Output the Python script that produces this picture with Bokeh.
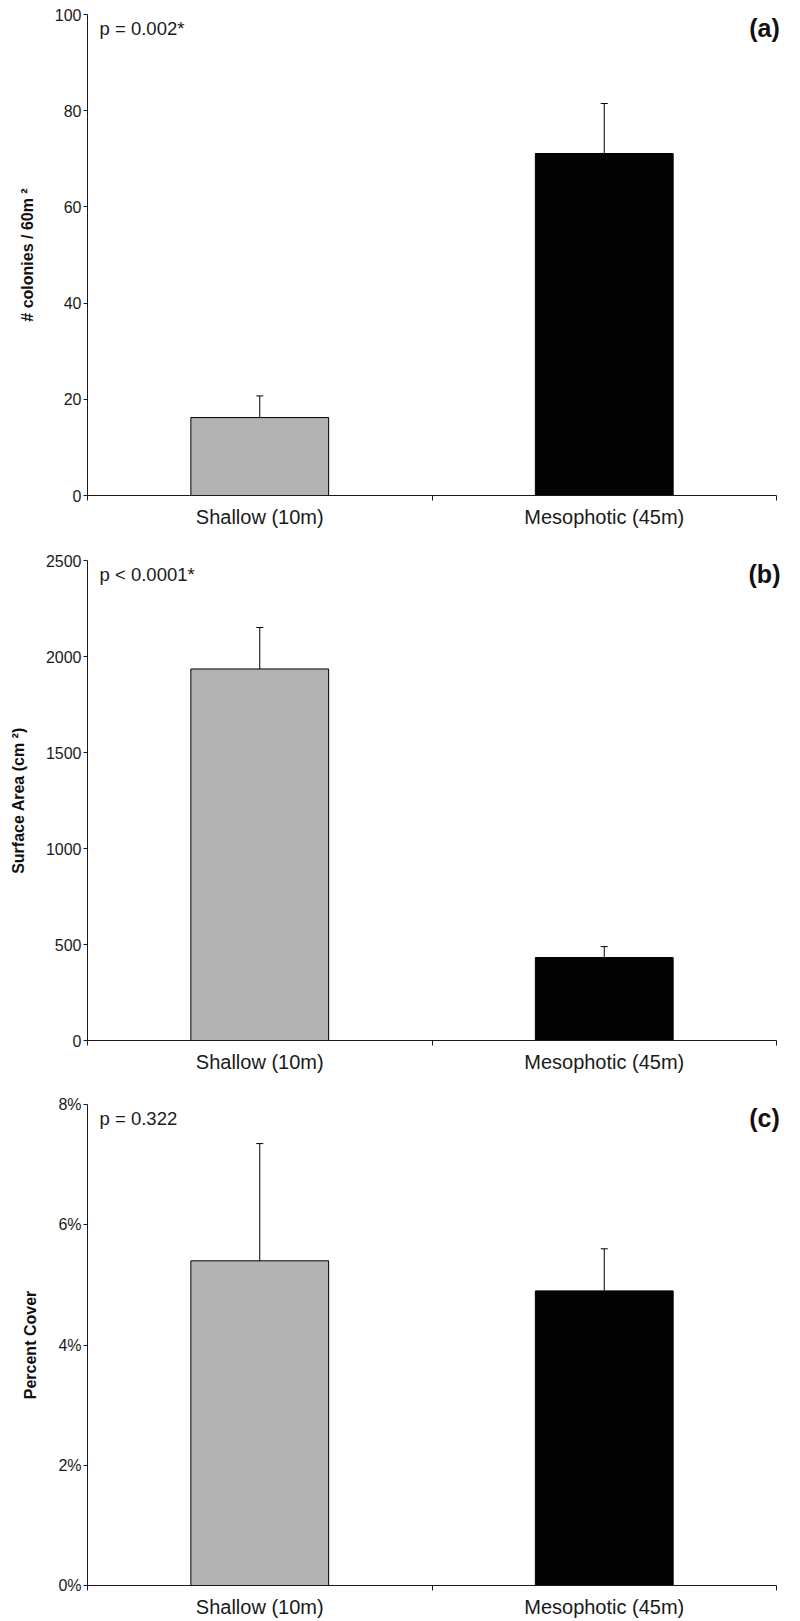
from bokeh.plotting import figure
from bokeh.models import (Range1d, FixedTicker, Whisker, ColumnDataSource, Label,
                          NumeralTickFormatter, TeeHead)
from bokeh.layouts import column
from bokeh.embed import file_html
from bokeh.resources import INLINE

# ---- data ----
categories = ["Shallow (10m)", "Mesophotic (45m)"]
bar_colors = ["#b3b3b3", "#030303"]

colonies_mean = [16.2, 71.1]
colonies_err = [4.5, 10.4]

area_mean = [1935, 432]
area_err = [216, 57]

cover_mean = [0.054, 0.049]
cover_err = [0.0195, 0.007]

ticks_a = [0, 20, 40, 60, 80, 100]
ticks_b = [0, 500, 1000, 1500, 2000, 2500]
ticks_c = [0, 0.02, 0.04, 0.06, 0.08]

p_texts = ["p = 0.002*", "p < 0.0001*", "p = 0.322"]
panel_tags = ["(a)", "(b)", "(c)"]
y_labels = ["# colonies / 60m \u00b2", "Surface Area (cm \u00b2)", "Percent Cover"]

FONT = "Liberation Sans"
AXIS_W = 689      # pixel length of the drawn x axis
EXTRA_R = 8       # frame extends a little past the axis end so the tag is not clipped


def make_panel(means, errs, ticks, p_text, tag, ylabel, top_b, frame_h, bottom_b, pct=False):
    ymax = ticks[-1]
    n = len(categories)
    px_per_unit = AXIS_W / n
    xs = [i + 0.5 for i in range(n)]
    p = figure(frame_width=AXIS_W + EXTRA_R, frame_height=frame_h,
               x_range=Range1d(0, n + EXTRA_R / px_per_unit), y_range=Range1d(0, ymax),
               output_backend="svg", toolbar_location=None,
               min_border_left=87, min_border_right=8,
               min_border_top=top_b, min_border_bottom=bottom_b)
    p.outline_line_color = None
    p.xgrid.visible = False
    p.ygrid.visible = False
    p.background_fill_color = "white"
    p.border_fill_color = "white"

    src = ColumnDataSource(dict(
        x=xs, top=means, color=bar_colors,
        upper=[m + e for m, e in zip(means, errs)],
        lower=[m - e for m, e in zip(means, errs)],
    ))
    p.vbar(x="x", top="top", bottom=0, width=0.4, source=src,
           fill_color="color", line_color="black", line_width=1)
    w = Whisker(base="x", upper="upper", lower="lower", source=src,
                line_color="black", line_width=1,
                upper_head=TeeHead(size=7, line_color="black", line_width=1),
                lower_head=TeeHead(size=7, line_color="black", line_width=1))
    p.add_layout(w)

    # x axis
    xa = p.xaxis[0]
    xa.bounds = (0, n)
    xa.ticker = FixedTicker(ticks=xs, minor_ticks=list(range(n + 1)))
    xa.major_label_overrides = {x: c for x, c in zip(xs, categories)}
    xa.major_tick_out = 0
    xa.major_tick_in = 0
    xa.minor_tick_out = 5
    xa.minor_tick_in = 0
    xa.minor_tick_line_color = "#1a1a1a"
    xa.axis_line_color = "#1a1a1a"
    xa.major_label_text_font = FONT
    xa.major_label_text_font_size = "20px"
    xa.major_label_text_color = "#1a1a1a"
    xa.major_label_standoff = 5

    # y axis
    ya = p.yaxis[0]
    ya.ticker = FixedTicker(ticks=ticks)
    if pct:
        ya.formatter = NumeralTickFormatter(format="0%")
    ya.major_tick_out = 4
    ya.major_tick_in = 0
    ya.minor_tick_out = 0
    ya.minor_tick_in = 0
    ya.axis_line_color = "#1a1a1a"
    ya.major_tick_line_color = "#1a1a1a"
    ya.major_label_text_font = FONT
    ya.major_label_text_font_size = "16px"
    ya.major_label_text_color = "#1a1a1a"
    ya.major_label_standoff = 2
    ya.axis_label = ylabel
    ya.axis_label_text_font = FONT
    ya.axis_label_text_font_style = "bold"
    ya.axis_label_text_font_size = "16px"
    ya.axis_label_text_color = "#111111"
    ya.axis_label_standoff = 16

    p.add_layout(Label(x=0.035, y=ymax * (1 - 14.0 / frame_h), text=p_text,
                       text_font=FONT, text_font_size="18.5px", text_color="#1a1a1a",
                       text_baseline="middle", text_align="left"))
    p.add_layout(Label(x=677.0 / px_per_unit, y=ymax * (1 - 13.0 / frame_h), text=tag,
                       text_font=FONT, text_font_size="25px", text_font_style="bold",
                       text_color="#111111", text_baseline="middle", text_align="center"))
    return p


pa = make_panel(colonies_mean, colonies_err, ticks_a, p_texts[0], panel_tags[0], y_labels[0],
                14, 481, 45)
pb = make_panel(area_mean, area_err, ticks_b, p_texts[1], panel_tags[1], y_labels[1],
                20, 480, 43)
pc = make_panel(cover_mean, cover_err, ticks_c, p_texts[2], panel_tags[2], y_labels[2],
                21, 481, 31, pct=True)

layout = column(pa, pb, pc, spacing=0)
open("out.html", "w").write(file_html(layout, INLINE))
